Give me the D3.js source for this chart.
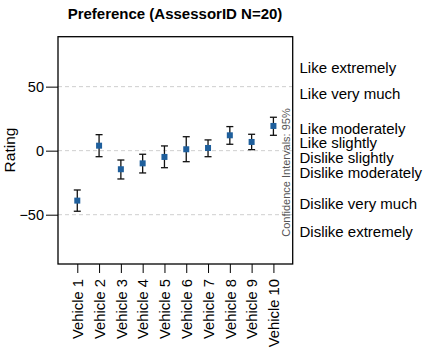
<!DOCTYPE html>
<html><head><meta charset="utf-8">
<script src="https://cdn.jsdelivr.net/npm/d3@7"></script>
<style>body{margin:0;background:#fff}svg{display:block;font-family:"Liberation Sans",Arial,sans-serif}</style>
</head><body><svg id="c" width="430" height="359"></svg>
<script>
const categories = ["Vehicle 1","Vehicle 2","Vehicle 3","Vehicle 4","Vehicle 5","Vehicle 6","Vehicle 7","Vehicle 8","Vehicle 9","Vehicle 10"];
const means = [-39, 3.9, -14.5, -9.9, -4.9, 1.1, 2.1, 12, 6.8, 19.3];
const ciLow = [-47.3, -4.7, -22.1, -17.4, -13.3, -8.6, -4.7, 5, 0.8, 12];
const ciHigh = [-30.7, 12.5, -7.3, -2.8, 3.7, 10.9, 8.4, 18.8, 12.8, 26.1];
const yTicks = [-50, 0, 50];
const scaleLabels = ["Like extremely","Like very much","Like moderately","Like slightly","Dislike slightly","Dislike moderately","Dislike very much","Dislike extremely"];
const scaleValues = [64.4, 44.1, 16.9, 5.9, -5.8, -17.5, -41.6, -63.4];

const svg = d3.select("#c");
const L = 58, R = 292.7, T = 36.7, B = 264;
const y = d3.scaleLinear().domain([-88.5, 89]).range([B, T]);
const x = d3.scalePoint().domain(categories).range([L, R]).padding(0.885);

svg.append("text").attr("x", 175).attr("y", 19).attr("text-anchor", "middle")
  .attr("font-weight", "bold").attr("font-size", 15).text("Preference (AssessorID N=20)");

// grid
svg.append("g").selectAll("line").data(yTicks).join("line")
  .attr("x1", L).attr("x2", R).attr("y1", d => y(d)).attr("y2", d => y(d))
  .attr("stroke", "#cfcfcf").attr("stroke-dasharray", "4,3").attr("stroke-width", 1);

// left axis
const ga = svg.append("g").attr("transform", `translate(${L},0)`)
  .call(d3.axisLeft(y).tickValues(yTicks).tickSize(12).tickPadding(2));
ga.select(".domain").remove();
ga.selectAll("text").attr("font-size", 14.5).attr("font-family", "Liberation Sans, Arial, sans-serif").attr("fill", "#000");
ga.selectAll("line").attr("stroke", "#000");

// bottom axis
const gb = svg.append("g").attr("transform", `translate(0,${B})`)
  .call(d3.axisBottom(x).tickSize(9).tickPadding(3));
gb.select(".domain").remove();
gb.selectAll("line").attr("stroke", "#000");
gb.selectAll("text").attr("font-size", 14.8).attr("font-family", "Liberation Sans, Arial, sans-serif").attr("fill", "#000")
  .attr("transform", "rotate(-90)").attr("text-anchor", "end").attr("x", -15).attr("y", 0).attr("dy", "0.35em");

// frame
svg.append("rect").attr("x", L).attr("y", T).attr("width", R - L).attr("height", B - T)
  .attr("fill", "none").attr("stroke", "#000").attr("stroke-width", 1.3);

svg.append("text").attr("transform", "translate(14.5,150) rotate(-90)").attr("text-anchor", "middle")
  .attr("font-size", 15.5).text("Rating");

// error bars
const eb = svg.append("g").selectAll("g").data(categories).join("g");
eb.append("line").attr("x1", d => x(d)).attr("x2", d => x(d))
  .attr("y1", (d, i) => y(ciLow[i])).attr("y2", (d, i) => y(ciHigh[i])).attr("stroke", "#111").attr("stroke-width", 1.3);
eb.append("line").attr("x1", d => x(d) - 3.5).attr("x2", d => x(d) + 3.5)
  .attr("y1", (d, i) => y(ciLow[i])).attr("y2", (d, i) => y(ciLow[i])).attr("stroke", "#111").attr("stroke-width", 1.3);
eb.append("line").attr("x1", d => x(d) - 3.5).attr("x2", d => x(d) + 3.5)
  .attr("y1", (d, i) => y(ciHigh[i])).attr("y2", (d, i) => y(ciHigh[i])).attr("stroke", "#111").attr("stroke-width", 1.3);
eb.append("rect").attr("x", d => x(d) - 3).attr("y", (d, i) => y(means[i]) - 3)
  .attr("width", 6).attr("height", 6).attr("fill", "#1f5f9c");

// CI label
svg.append("text").attr("transform", `translate(${R - 2.8},172.5) rotate(-90)`).attr("text-anchor", "middle")
  .attr("font-size", 11).attr("fill", "#555").text("Confidence Intervals: 95%");

// right labels
svg.append("g").selectAll("text").data(scaleLabels).join("text")
  .attr("x", 299.5).attr("y", (d, i) => y(scaleValues[i])).attr("dy", "0.35em")
  .attr("font-size", 15).attr("fill", "#000").text(d => d);
</script></body></html>
